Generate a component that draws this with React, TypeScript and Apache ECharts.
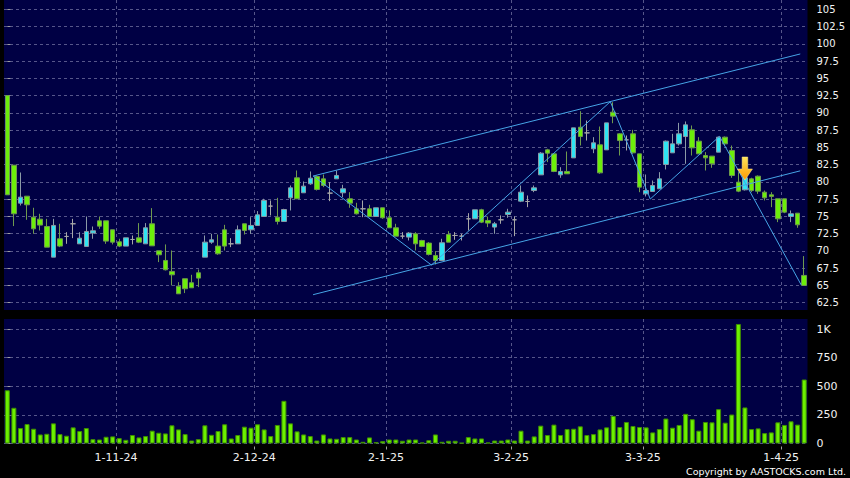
import React, { useEffect, useRef } from "react";
import * as echarts from "echarts";

const dates = [
  "9-10-24","10-10-24","14-10-24","15-10-24","16-10-24","17-10-24","18-10-24","21-10-24","22-10-24","23-10-24","24-10-24","25-10-24","28-10-24","29-10-24","30-10-24","31-10-24",
  "1-11-24","4-11-24","5-11-24","6-11-24","7-11-24","8-11-24","11-11-24","12-11-24","13-11-24","14-11-24","15-11-24","18-11-24","19-11-24","20-11-24","21-11-24","22-11-24","25-11-24","26-11-24","27-11-24","28-11-24","29-11-24",
  "2-12-24","3-12-24","4-12-24","5-12-24","6-12-24","9-12-24","10-12-24","11-12-24","12-12-24","13-12-24","16-12-24","17-12-24","18-12-24","19-12-24","20-12-24","23-12-24","24-12-24","27-12-24","30-12-24","31-12-24",
  "2-1-25","3-1-25","6-1-25","7-1-25","8-1-25","9-1-25","10-1-25","13-1-25","14-1-25","15-1-25","16-1-25","17-1-25","20-1-25","21-1-25","22-1-25","23-1-25","24-1-25","27-1-25","28-1-25",
  "3-2-25","4-2-25","5-2-25","6-2-25","7-2-25","10-2-25","11-2-25","12-2-25","13-2-25","14-2-25","17-2-25","18-2-25","19-2-25","20-2-25","21-2-25","24-2-25","25-2-25","26-2-25","27-2-25","28-2-25",
  "3-3-25","4-3-25","5-3-25","6-3-25","7-3-25","10-3-25","11-3-25","12-3-25","13-3-25","14-3-25","17-3-25","18-3-25","19-3-25","20-3-25","21-3-25","24-3-25","25-3-25","26-3-25","27-3-25","28-3-25","31-3-25",
  "1-4-25","2-4-25","3-4-25","7-4-25","8-4-25",
];

const opens = [
  92.5, 82.42, 76.92, 77.93, 74.89, 74.6, 73.54, 69.1, 71.76, 72.1,
  73.93, 71.03, 70.65, 72.58, 74.36, 74.36, 73.06, 71.32, 70.7, 71.66,
  71.9, 71.03, 73.93, 70.02, 68.62, 67.03, 64.9, 65.97, 65.39, 66.83,
  69.1, 71.27, 70.7, 73.06, 71.03, 71.03, 73.93, 73.06, 73.69, 74.99,
  76.49, 74.89, 74.27, 77.69, 80.59, 78.42, 79.72, 80.78, 80.44, 78.37,
  80.44, 78.42, 77.55, 76.1, 76.1, 76.1, 74.99, 76.25, 74.8, 73.35,
  72.14, 72.0, 72.48, 71.51, 71.13, 69.34, 68.62, 72.38, 72.24, 72.14,
  74.65, 74.65, 75.96, 74.41, 73.45, 74.51, 75.28, 74.51, 77.21, 77.16,
  78.75, 81.02, 84.64, 84.06, 81.02, 81.51, 83.48, 87.92, 87.1, 84.79,
  85.37, 84.64, 90.1, 86.96, 86.09, 86.96, 84.06, 78.27, 78.61, 79.0,
  82.52, 84.21, 85.51, 86.57, 87.54, 85.9, 83.82, 83.73, 84.31, 86.48,
  84.55, 79.96, 78.85, 80.44, 80.83, 78.51, 78.13, 77.55, 77.55, 74.99,
  75.47, 66.45,
];

const closes = [
  78.13, 75.38, 77.79, 76.68, 73.2, 73.74, 70.55, 73.69, 70.7, 72.1,
  73.93, 71.85, 72.82, 72.92, 73.59, 71.42, 71.27, 70.7, 71.9, 71.66,
  71.27, 73.35, 70.74, 69.44, 67.27, 66.54, 63.79, 64.52, 64.66, 66.06,
  71.27, 71.61, 69.58, 70.7, 71.03, 73.06, 72.96, 73.69, 75.23, 77.31,
  76.49, 74.27, 76.0, 79.14, 77.55, 79.38, 80.54, 78.9, 79.48, 78.37,
  80.93, 79.0, 76.92, 75.38, 76.1, 74.99, 76.25, 74.8, 73.35, 72.14,
  72.14, 72.58, 71.03, 70.65, 69.49, 68.62, 71.18, 71.27, 72.24, 72.14,
  74.65, 75.96, 74.17, 74.03, 73.93, 74.51, 75.62, 74.51, 78.51, 77.16,
  79.14, 84.16, 84.16, 81.51, 81.51, 81.17, 87.83, 86.57, 87.1, 85.66,
  81.31, 88.55, 89.52, 85.99, 86.09, 84.21, 79.24, 78.75, 79.48, 80.44,
  85.9, 85.51, 86.96, 88.26, 84.93, 84.06, 83.48, 82.62, 86.48, 85.51,
  80.93, 78.66, 80.59, 78.75, 78.66, 77.69, 77.89, 74.65, 75.62, 75.38,
  73.78, 65.0,
];

const lows = [
  78.13, 73.6, 76.58, 74.51, 72.48, 72.96, 70.55, 69.1, 70.55, 71.03,
  71.85, 71.03, 70.65, 71.76, 73.2, 71.03, 70.94, 70.55, 70.7, 70.94,
  71.13, 71.03, 70.74, 68.38, 67.17, 65.0, 63.79, 63.89, 64.66, 64.76,
  69.1, 71.03, 69.44, 70.07, 70.55, 71.03, 72.38, 72.48, 73.69, 74.99,
  75.14, 73.83, 74.27, 75.86, 77.55, 78.42, 79.58, 78.75, 79.24, 77.21,
  80.44, 77.79, 76.25, 75.28, 74.89, 74.89, 74.99, 74.65, 73.35, 72.14,
  71.76, 71.51, 70.07, 70.55, 69.34, 68.04, 68.62, 71.27, 71.61, 71.51,
  72.96, 74.65, 74.03, 73.45, 72.48, 73.93, 74.8, 72.14, 77.07, 76.34,
  78.51, 81.02, 82.86, 81.41, 80.59, 81.17, 83.48, 85.27, 85.99, 84.16,
  81.17, 84.64, 88.5, 83.82, 84.55, 84.06, 78.51, 77.89, 78.61, 79.0,
  81.8, 84.21, 85.27, 82.62, 83.82, 84.06, 81.65, 82.04, 84.31, 85.27,
  80.59, 78.51, 78.75, 78.51, 78.27, 77.31, 76.34, 74.17, 75.47, 74.17,
  73.35, 65.0,
];

const highs = [
  92.5, 82.42, 81.36, 77.93, 76.25, 75.38, 74.65, 74.65, 73.93, 72.72,
  74.65, 72.72, 74.99, 73.54, 74.99, 74.36, 73.06, 71.76, 71.9, 72.24,
  74.03, 74.03, 76.2, 70.02, 70.94, 70.07, 65.48, 65.97, 66.54, 67.32,
  72.24, 72.48, 72.38, 73.78, 71.85, 73.69, 73.93, 74.89, 75.77, 77.55,
  77.31, 77.69, 76.1, 79.48, 81.65, 80.06, 81.51, 80.93, 81.07, 79.96,
  81.65, 79.58, 78.51, 76.97, 77.31, 76.68, 76.25, 76.25, 75.86, 73.93,
  72.72, 72.72, 72.72, 71.61, 71.27, 69.97, 71.76, 72.87, 72.72, 72.48,
  75.47, 75.96, 76.1, 74.99, 74.2, 75.14, 76.1, 74.99, 79.48, 78.03,
  79.48, 84.31, 84.79, 84.16, 82.13, 84.4, 87.83, 90.24, 88.89, 86.48,
  88.02, 88.55, 91.54, 87.06, 86.72, 87.54, 84.06, 81.07, 80.2, 81.41,
  85.99, 86.96, 88.55, 88.75, 88.17, 86.48, 84.31, 83.73, 86.57, 86.57,
  85.27, 81.41, 80.93, 80.6, 80.93, 78.75, 78.51, 77.55, 77.55, 75.86,
  75.47, 69.25,
];

const volumes = [
  465, 312, 135, 170, 129, 79, 85, 176, 82, 68,
  141, 109, 135, 38, 35, 59, 62, 47, 32, 74,
  53, 65, 112, 94, 88, 159, 123, 82, 26, 38,
  159, 76, 109, 168, 44, 74, 147, 138, 168, 123,
  65, 162, 373, 176, 106, 79, 65, 26, 79, 44,
  41, 56, 56, 35, 15, 53, 12, 21, 35, 35,
  24, 35, 35, 9, 29, 79, 15, 24, 24, 6,
  56, 44, 44, 9, 26, 26, 35, 26, 112, 26,
  62, 156, 74, 165, 74, 126, 129, 150, 74, 82,
  123, 141, 241, 144, 188, 153, 144, 141, 97, 126,
  218, 138, 162, 259, 212, 112, 188, 185, 300, 182,
  253, 1044, 315, 126, 132, 91, 97, 185, 162, 194,
  165, 559,
];

const labelDates = ["1-11-24", "2-12-24", "2-1-25", "3-2-25", "3-3-25", "1-4-25"];
const priceTicks = [62.5, 65, 67.5, 70, 72.5, 75, 77.5, 80, 82.5, 85, 87.5, 90, 92.5, 95, 97.5, 100, 102.5, 105];
const volumeTicks = [0, 250, 500, 750, 1000];

const channelUpper = [[46.43, 80.85], [120.4, 98.53]];
const channelLower = [[46.43, 63.66], [120.4, 81.6]];
const zigzag = [[46.43, 80.85], [64.4, 67.96], [91.56, 91.62], [97.63, 77.52], [108.15, 86.6], [120.55, 65.07]];
const signalIndex = 112;
const signalValue = 81.94;

export default function App() {
  const ref = useRef<HTMLDivElement>(null);
  useEffect(() => {
    const chart = echarts.init(ref.current!, null, { renderer: "svg" });
    const gridColor = "#56568a";
    const dash = [3, 3];
    const font = "DejaVu Sans";
    const labelIdx = labelDates.map((d) => dates.indexOf(d));
    const gridVals = labelIdx.map((i) => i + 0.5);
    const n = dates.length;
    const trendStyle = { color: "#46a4e6", width: 1 };
    // price panel spans 0..310 px; 105 sits at 9.3 px and 62.5 at 302.7 px
    const pxPerUnit = 293.4 / 42.5;
    const priceMax = 105 + 9.3 / pxPerUnit;
    const priceMin = 62.5 - 7.3 / pxPerUnit;
    const option: any = {
      animation: false,
      backgroundColor: "#000000",
      textStyle: { fontFamily: font },
      graphic: [
        { type: "rect", z: -100, silent: true, shape: { x: 4, y: 0, width: 803.5, height: 310 }, style: { fill: "#000044" } },
        { type: "rect", z: -100, silent: true, shape: { x: 4, y: 319, width: 803.5, height: 124.5 }, style: { fill: "#000044" } },
        {
          type: "text", x: 846, y: 471, silent: true,
          style: { text: "Copyright by AASTOCKS.com Ltd.", fill: "#ffffff", font: `9.5px "${font}"`, align: "right", verticalAlign: "middle" },
        },
      ],
      grid: [
        { left: 4, right: 42.5, top: 0, height: 310 },
        { left: 4, right: 42.5, top: 319, height: 124.5 },
      ],
      xAxis: [
        { type: "category", gridIndex: 0, data: dates, show: false },
        { type: "category", gridIndex: 1, data: dates, show: false },
        {
          type: "value", gridIndex: 0, min: -0.5, max: n - 0.5,
          axisLine: { show: false },
          axisTick: { show: false, customValues: gridVals },
          axisLabel: { show: false, customValues: gridVals },
          splitLine: { show: true, lineStyle: { color: gridColor, type: dash, width: 1 } },
        },
        {
          type: "value", gridIndex: 1, min: -0.5, max: n - 0.5, position: "bottom", offset: 3,
          axisLine: { show: false },
          axisTick: { show: true, length: 3, lineStyle: { color: "#a0a0a0" }, customValues: gridVals },
          axisLabel: {
            customValues: gridVals, color: "#f2f2f2", fontSize: 11, margin: 5, fontFamily: font,
            formatter: (v: number) => dates[Math.round(v - 0.5)] ?? "",
          },
          splitLine: { show: true, lineStyle: { color: gridColor, type: dash, width: 1 } },
        },
      ],
      yAxis: [
        {
          type: "value", gridIndex: 0, position: "right", min: priceMin, max: priceMax, offset: 3,
          axisLine: { show: false },
          axisTick: { show: true, length: 3, lineStyle: { color: "#a0a0a0" }, customValues: priceTicks },
          axisLabel: { color: "#f2f2f2", fontSize: 10, margin: 6, fontFamily: font, customValues: priceTicks },
          splitLine: { show: true, lineStyle: { color: gridColor, type: dash, width: 1 } },
        },
        {
          type: "value", gridIndex: 1, position: "right", min: 0, max: 1087.5, offset: 3,
          axisLine: { show: false },
          axisTick: { show: true, length: 3, lineStyle: { color: "#a0a0a0" }, customValues: volumeTicks },
          axisLabel: {
            color: "#f2f2f2", fontSize: 11, margin: 6, fontFamily: font, customValues: volumeTicks,
            formatter: (v: number) => (v >= 1000 ? `${v / 1000}K` : `${v}`),
          },
          splitLine: { show: true, lineStyle: { color: gridColor, type: dash, width: 1 } },
        },
      ],
      series: [
        {
          type: "candlestick", xAxisIndex: 0, yAxisIndex: 0, barWidth: 5,
          data: dates.map((_, i) => [opens[i], closes[i], lows[i], highs[i]]),
          itemStyle: {
            color: "#2fe4f2", color0: "#6cef0a",
            borderColor: "#8b9aa6", borderColor0: "#6f9a4e", borderColorDoji: "#a8a8a8", borderWidth: 1,
          },
          markPoint: {
            silent: true,
            label: { show: false },
            data: [
              {
                coord: [signalIndex, signalValue],
                symbol: "path://M5,0 L11,0 L11,12 L16,12 L8,23 L0,12 L5,12 Z",
                symbolSize: [15, 23],
                itemStyle: {
                  color: { type: "linear", x: 0, y: 0, x2: 0, y2: 1, colorStops: [{ offset: 0, color: "#ffe45a" }, { offset: 1, color: "#ff9a00" }] },
                  borderColor: "#ffe98a", borderWidth: 0.5,
                },
              },
            ],
          },
        },
        {
          type: "bar", xAxisIndex: 1, yAxisIndex: 1, barWidth: 5, data: volumes,
          itemStyle: { color: "#6cf000", borderColor: "#3f8e00", borderWidth: 1 },
        },
        { type: "line", xAxisIndex: 2, yAxisIndex: 0, data: channelUpper, symbol: "none", lineStyle: trendStyle, z: 3 },
        { type: "line", xAxisIndex: 2, yAxisIndex: 0, data: channelLower, symbol: "none", lineStyle: trendStyle, z: 3 },
        { type: "line", xAxisIndex: 2, yAxisIndex: 0, data: zigzag, symbol: "none", lineStyle: trendStyle, z: 3 },
      ],
    };
    chart.setOption(option);
    return () => chart.dispose();
  }, []);
  return <div ref={ref} style={{ position: "fixed", left: 0, top: 0, width: 850, height: 478 }} />;
}
